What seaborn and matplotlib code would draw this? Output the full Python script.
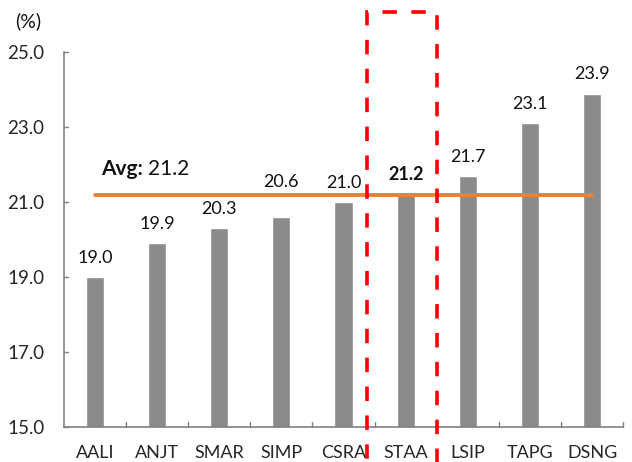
import matplotlib
matplotlib.use("Agg")
import matplotlib.pyplot as plt
import seaborn as sns
import pandas as pd
from matplotlib.patches import Rectangle

categories = ["AALI", "ANJT", "SMAR", "SIMP", "CSRA", "STAA", "LSIP", "TAPG", "DSNG"]
values = [19.0, 19.9, 20.3, 20.6, 21.0, 21.2, 21.7, 23.1, 23.9]
avg_value = 21.2
y_ticks = [15.0, 17.0, 19.0, 21.0, 23.0, 25.0]

sns.set_style("white")
plt.rcParams['font.family'] = ['Lato', 'DejaVu Sans']

df = pd.DataFrame({"cat": categories, "val": values})

fig = plt.figure(figsize=(6.32, 4.62), dpi=100)
ax = fig.add_axes([0.101, 0.0758, 0.885, 0.811])

sns.barplot(data=df, x="cat", y="val", color="#898B8D", saturation=1, width=0.29, ax=ax)

ax.set_ylim(15, 25)
ax.set_xlim(-0.5, len(categories) - 0.5)
ax.set_yticks(y_ticks)
ax.set_yticklabels([f"{t:.1f}" for t in y_ticks], fontsize=13.5)
ax.set_xticks(range(len(categories)))
ax.set_xticklabels(categories, fontsize=13)
ax.tick_params(axis="x", length=0, pad=13)
ax.tick_params(axis="y", length=0, pad=14)
ax.set_xlabel("")
ax.set_ylabel("")
for s in ["top", "right"]:
    ax.spines[s].set_visible(False)
for s in ["left", "bottom"]:
    ax.spines[s].set_color("#808080")
    ax.spines[s].set_linewidth(1.2)

# inward boundary ticks on x-axis
for b in range(1, len(categories) + 1):
    ax.plot([b - 0.5, b - 0.5], [15, 15.12], color="#808080", lw=1.0, clip_on=False)
# inward ticks on y-axis
for t in y_ticks:
    ax.plot([-0.5, -0.43], [t, t], color="#808080", lw=1.0, clip_on=False)

for i, v in enumerate(values):
    y_lab = v + 0.3
    if y_lab < avg_value < y_lab + 0.5:
        y_lab = avg_value + 0.12
    ax.text(i, y_lab, f"{v:.1f}", ha="center", va="bottom", fontsize=13,
            fontweight="bold" if categories[i] == "STAA" else "normal", color="#111111")

ax.plot([0, len(categories) - 1], [avg_value, avg_value], color="#F0812A", lw=2.8, zorder=5)
ax.text(0.1, 21.88, "Avg:", fontsize=15, fontweight="bold", ha="left", va="center", color="#111111")
ax.text(0.86, 21.88, f"{avg_value:.1f}", fontsize=15, ha="left", va="center", color="#111111")

rect = Rectangle((4.38, 13.9), 1.13, 12.17, fill=False, edgecolor="#FF0000", lw=2.6,
                 linestyle=(0, (4, 4)), clip_on=False, zorder=6)
ax.add_patch(rect)

fig.text(0.024, 0.955, "(%)", fontsize=14, ha="left", va="center", color="#111111")

fig.savefig("out.png", dpi=100, facecolor="white")
